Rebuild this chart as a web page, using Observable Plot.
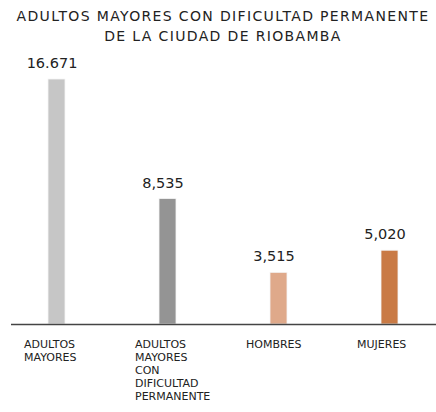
<!DOCTYPE html>
<html>
<head>
<meta charset="utf-8">
<script src="https://cdn.jsdelivr.net/npm/d3@7"></script>
<script src="https://cdn.jsdelivr.net/npm/@observablehq/plot@0.6"></script>
<style>
  html, body { margin: 0; padding: 0; background: #fff; }
  #chart { width: 436px; }
  #title { height: 44px; box-sizing: border-box; padding-top: 6px; padding-left: 10px; text-align: center;
    font-family: "DejaVu Sans", sans-serif; font-size: 14px; line-height: 20px; color: #222; letter-spacing: 1.35px; white-space: nowrap; }
  svg { display: block; }
</style>
</head>
<body>
<div id="chart">
  <div id="title">ADULTOS MAYORES CON DIFICULTAD PERMANENTE<br>DE LA CIUDAD DE RIOBAMBA</div>
</div>
<script>
const categories = ["ADULTOS\nMAYORES", "ADULTOS\nMAYORES\nCON\nDIFICULTAD\nPERMANENTE", "HOMBRES", "MUJERES"];
const values = [16671, 8535, 3515, 5020];
const valueLabels = ["16.671", "8,535", "3,515", "5,020"];
const colors = ["#c6c6c6", "#949494", "#dfa98a", "#c97a45"];

const data = categories.map((c, i) => ({cat: c, value: values[i], label: valueLabels[i], color: colors[i]}));

const chart = Plot.plot({
  width: 436,
  height: 368,
  marginTop: 35,
  marginBottom: 88,
  marginLeft: 11,
  marginRight: 0,
  style: {fontFamily: "DejaVu Sans, sans-serif", color: "#222"},
  x: {domain: categories, paddingInner: 0.843, paddingOuter: 0.322, axis: null},
  y: {domain: [0, 16671], axis: null},
  marks: [
    Plot.barY(data, {x: "cat", y: "value", fill: "color", stroke: "#f4f4f4", strokeWidth: 0.8}),
    Plot.ruleY([0], {stroke: "#444", strokeWidth: 1.3}),
    Plot.text(data, {x: "cat", y: "value", text: "label", dy: -16, dx: -5, fontSize: 14.5, fill: "#222"}),
    Plot.axisX({tickSize: 0, textAnchor: "start", lineAnchor: "top", dx: -33, dy: 5, fontSize: 11, lineHeight: 1.18, fill: "#222", label: null})
  ]
});
document.getElementById("chart").appendChild(chart);
</script>
</body>
</html>
